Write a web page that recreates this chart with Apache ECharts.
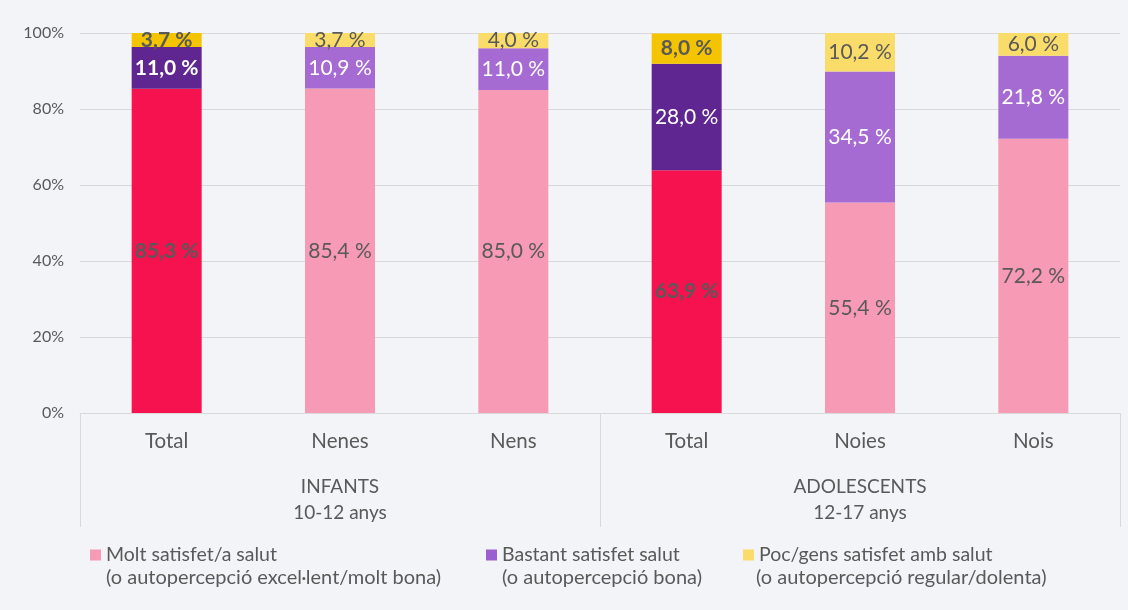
<!DOCTYPE html>
<html lang="ca" style="height: 100%">
<head>
    <meta charset="utf-8">
    <script type="text/javascript" src="https://fastly.jsdelivr.net/npm/echarts@6.0.0/dist/echarts.min.js"></script>
</head>
<body style="height: 100%; margin: 0; background: #f3f4f7">
<div id="container" style="width: 1128px; height: 610px"></div>
<script type="text/javascript">
    // dades
    var categories = ['Total', 'Nenes', 'Nens', 'Total', 'Noies', 'Nois'];
    var groups = ['INFANTS\n10-12 anys', 'ADOLESCENTS\n12-17 anys'];
    var seriesNames = ['Molt satisfet/a salut', 'Bastant satisfet salut', 'Poc/gens satisfet amb salut'];
    var seriesNotes = ['(o autopercepció excel·lent/molt bona)', '(o autopercepció bona)', '(o autopercepció regular/dolenta)'];
    var molt = [85.3, 85.4, 85.0, 63.9, 55.4, 72.2];
    var bastant = [11.0, 10.9, 11.0, 28.0, 34.5, 21.8];
    var poc = [3.7, 3.7, 4.0, 8.0, 10.2, 6.0];
    var yTicks = [0, 20, 40, 60, 80, 100];

    // colors: total bars darker, subgroup bars lighter
    var colTotal = ['#f5124f', '#5f2590', '#f5c400'];
    var colSub = ['#f79ab5', '#a66bd3', '#fadc6a'];
    var colLegend = ['#f79ab5', '#9b5fd0', '#fadc6a'];
    var labelCol = ['#595959', '#ffffff', '#595959'];
    var font = 'Lato, "Open Sans", sans-serif';

    function fmt(v) {
        return v.toFixed(1).replace('.', ',') + ' %';
    }

    function buildData(values, s) {
        var out = [];
        for (var i = 0; i < values.length; i++) {
            var isTotal = categories[i] === 'Total';
            var bold = isTotal && !(s === 1 && i === 3);
            out.push({
                value: values[i],
                itemStyle: {color: isTotal ? colTotal[s] : colSub[s]},
                label: {fontWeight: bold ? 'bold' : 'normal'}
            });
        }
        return out;
    }

    var allValues = [molt, bastant, poc];
    var series = [];
    for (var s = 0; s < 3; s++) {
        series.push({
            name: seriesNames[s],
            type: 'bar',
            stack: 'total',
            barWidth: 70,
            itemStyle: {color: colLegend[s]},
            label: {
                show: true,
                position: 'inside',
                color: labelCol[s],
                fontSize: 21,
                fontFamily: font,
                formatter: function (p) { return fmt(p.value); }
            },
            data: buildData(allValues[s], s)
        });
    }

    var legends = [];
    var legendLeft = [85, 481, 738];
    for (var k = 0; k < 3; k++) {
        legends.push({
            data: [seriesNames[k]],
            left: legendLeft[k],
            top: 540,
            icon: 'rect',
            itemWidth: 11,
            itemHeight: 11,
            itemGap: 6,
            selectedMode: false,
            textStyle: {fontSize: 19.5, color: '#595959', fontFamily: font}
        });
    }

    var noteLeft = [106, 502, 756];
    var graphics = [];
    for (var g = 0; g < 3; g++) {
        graphics.push({
            type: 'text',
            left: noteLeft[g],
            top: 568,
            style: {text: seriesNotes[g], fontSize: 20, fill: '#595959', fontFamily: font}
        });
    }

    var myChart = echarts.init(document.getElementById('container'), null, {renderer: 'canvas'});
    var option = {
        backgroundColor: '#f3f4f7',
        animation: false,
        grid: {left: 80, right: 8, top: 33, bottom: 197},
        legend: legends,
        graphic: graphics,
        xAxis: [
            {
                type: 'category',
                data: categories,
                axisLine: {lineStyle: {color: '#d9d9d9'}},
                axisTick: {show: false},
                axisLabel: {fontSize: 20.5, color: '#595959', margin: 18, fontFamily: font}
            },
            {
                type: 'category',
                data: groups,
                position: 'bottom',
                axisLine: {show: false},
                axisTick: {show: true, length: 114, lineStyle: {color: '#d9d9d9'}},
                axisLabel: {fontSize: 19, color: '#595959', margin: 61, lineHeight: 26, fontFamily: font}
            }
        ],
        yAxis: {
            type: 'value',
            min: yTicks[0],
            max: yTicks[yTicks.length - 1],
            interval: 20,
            axisLine: {show: false},
            axisTick: {show: false},
            splitLine: {lineStyle: {color: '#d9d9d9'}},
            axisLabel: {fontSize: 16, color: '#595959', margin: 16, fontFamily: font, formatter: '{value}%'}
        },
        series: series
    };
    myChart.setOption(option);
</script>
</body>
</html>
